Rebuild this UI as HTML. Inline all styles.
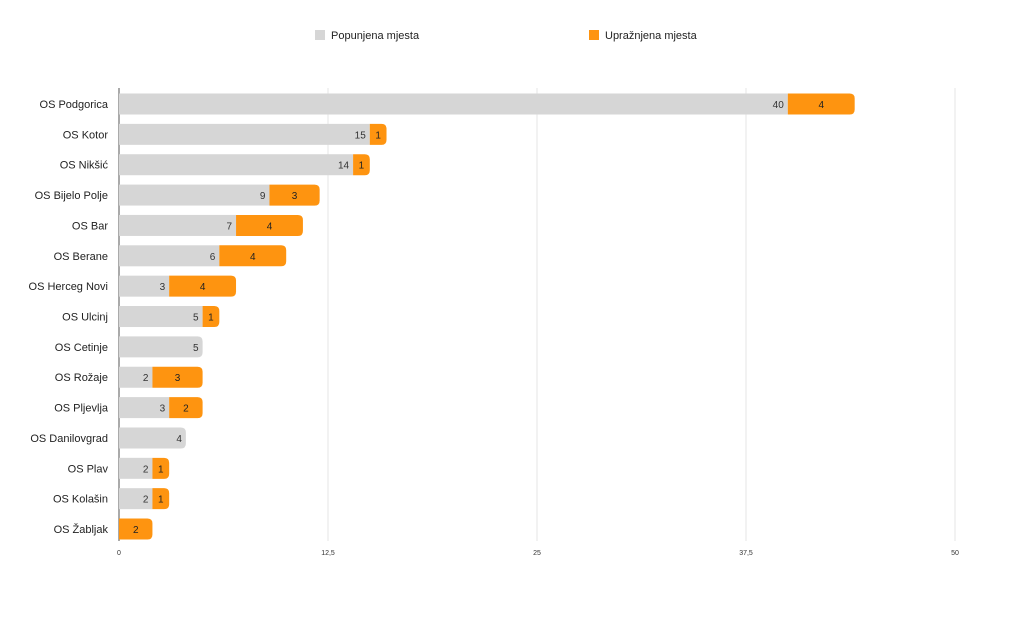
<!DOCTYPE html>
<html><head><meta charset="utf-8"><style>
body{margin:0;background:#fff;width:1024px;height:617px;overflow:hidden;font-family:"Liberation Sans",sans-serif}
</style></head><body>
<svg id="chart" width="1024" height="617" xmlns="http://www.w3.org/2000/svg" font-family="Liberation Sans, Noto Sans CJK SC, sans-serif">
<g>
<rect x="315" y="30" width="10" height="10" fill="#d6d6d6"/>
<text x="331" y="39" font-size="11" fill="#222">Popunjena mjesta</text>
<rect x="589" y="30" width="10" height="10" fill="#fe9410"/>
<text x="605" y="39" font-size="11" fill="#222">Upražnjena mjesta</text>
</g>
<g id="grid"></g><g id="bars"></g><g id="labels"></g>
</svg>
<script>
const categories=["OS Podgorica","OS Kotor","OS Nikšić","OS Bijelo Polje","OS Bar","OS Berane","OS Herceg Novi","OS Ulcinj","OS Cetinje","OS Rožaje","OS Pljevlja","OS Danilovgrad","OS Plav","OS Kolašin","OS Žabljak"];
const filled=[40,15,14,9,7,6,3,5,5,2,3,4,2,2,0];
const vacant=[4,1,1,3,4,4,4,1,0,3,2,0,1,1,2];
const ticks=[0,12.5,25,37.5,50];
const tickLabels=["0","12,5","25","37,5","50"];
const NS="http://www.w3.org/2000/svg";
const x0=119,x1=955,xmax=50;
const xs=v=>x0+(v/xmax)*(x1-x0);
const yTop=104,step=30.36,bh=21;
const ys=i=>yTop+i*step;
const grid=document.getElementById('grid'),bars=document.getElementById('bars'),labels=document.getElementById('labels');
function mk(tag,attrs,parent){const e=document.createElementNS(NS,tag);for(const k in attrs)e.setAttribute(k,attrs[k]);parent.appendChild(e);return e;}
ticks.forEach((t,i)=>{
  if(i>0){const l=mk('line',{x1:xs(t),x2:xs(t),y1:88,y2:541,stroke:'#e6e6e6','stroke-width':1},grid);
  
  }
  const tx=mk('text',{x:xs(t),y:555,'font-size':7,'text-anchor':'middle',fill:'#333'},grid);
  tx.textContent=tickLabels[i];
  
  
});
const ax=mk('line',{x1:x0,x2:x0,y1:88,y2:541,stroke:'#555','stroke-width':1},grid);


function roundRight(x,y,w,h,r,fill){
  r=Math.min(r,w);
  return mk('path',{d:`M${x},${y}H${x+w-r}Q${x+w},${y} ${x+w},${y+r}V${y+h-r}Q${x+w},${y+h} ${x+w-r},${y+h}H${x}Z`,fill:fill},bars);
}
categories.forEach((c,i)=>{
  const cy=ys(i),y=cy-bh/2;
  const t=mk('text',{x:108,y:cy+4,'font-size':11,'text-anchor':'end',fill:'#222'},labels);
  t.textContent=c;
  
  
  const f=filled[i],v=vacant[i];
  if(f>0){
    const w=xs(f)-x0;
    const b=v>0?mk('rect',{x:x0,y:y,width:w,height:bh,fill:'#d6d6d6'},bars):roundRight(x0,y,w,bh,5,'#d6d6d6');
    
    
    const lt=mk('text',{x:xs(f)-4,y:cy+4,'font-size':10,'text-anchor':'end',fill:'#333'},labels);
    lt.textContent=f;
    
    
  }
  if(v>0){
    const b=roundRight(xs(f),y,xs(f+v)-xs(f),bh,5,'#fe9410');
    
    
    const lt=mk('text',{x:(xs(f)+xs(f+v))/2,y:cy+4,'font-size':10,'text-anchor':'middle',fill:'#222'},labels);
    lt.textContent=v;
    
    
  }
});
</script>
</body></html>
